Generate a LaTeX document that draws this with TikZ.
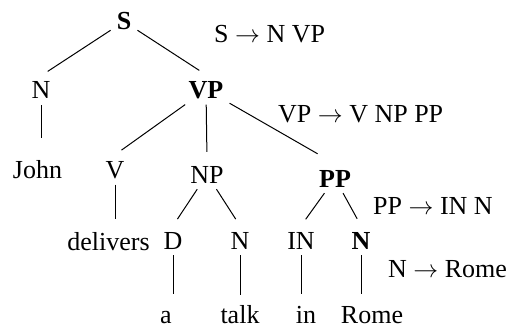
\documentclass[tikz,border=0pt]{standalone}
\usepackage{fontspec}
\setmainfont{Liberation Serif}
\usepackage{tikz}
\usetikzlibrary{calc}

\begin{document}
\begin{tikzpicture}[x = 1pt, y = -1pt,
		font = \fontsize{26}{30}\selectfont,
		word/.style = {anchor = base, inner sep = 6pt},
		head/.style = {word, font = \fontsize{26}{30}\selectfont\bfseries},
		rule/.style = {anchor = base west, inner sep = 0pt},
		branch/.style = {line width = 1pt, shorten >= 6pt}]
	\useasboundingbox (0, 0) rectangle (514, 329);

	% Nodes
	\node[head] (s) at (124, 30) {S};
	\node[word] (n1) at (41, 99) {N};
	\node[head] (vp) at (206, 98) {VP};
	\node[word] (john) at (37.5, 178) {John};
	\node[word] (v) at (115, 178) {V};
	\node[word] (np) at (207, 183) {NP};
	\node[head] (pp) at (335, 187) {PP};
	\node[word] (delivers) at (108.5, 250) {delivers};
	\node[word] (d) at (173, 249) {D};
	\node[word] (n2) at (240, 249) {N};
	\node[word] (in1) at (301, 249) {IN};
	\node[head] (n3) at (361, 249) {N};
	\node[word] (a) at (166, 323) {a};
	\node[word] (talk) at (240, 323) {talk};
	\node[word] (in2) at (306, 323) {in};
	\node[word] (rome) at (372, 323) {Rome};

	% Rules
	\node[rule] (r1) at (214, 43) {S $\rightarrow$ N VP};
	\node[rule] (r2) at (278, 122) {VP $\rightarrow$ V NP PP};
	\node[rule] (r3) at (373, 214) {PP $\rightarrow$ IN N};
	\node[rule] (r4) at (388, 277) {N $\rightarrow$ Rome};

	% Edges
	\draw[branch, shorten >= 8pt] (s) -- (n1.north);
	\draw[branch, shorten >= 8pt] (s) -- (vp.north);
	\draw[branch, shorten >= 8pt] (vp) -- (v.north);
	\draw[branch, shorten >= 8pt] (vp) -- (np.north);
	\draw[branch, shorten >= 20pt] (vp) -- (pp.north);
	\draw[branch, shorten >= 8pt] (np) -- (d.north);
	\draw[branch, shorten >= 8pt] (np) -- (n2.north);
	\draw[branch, shorten >= 8pt] (pp) -- (in1.north);
	\draw[branch, shorten >= 8pt] (pp) -- (n3.north);
	\draw[branch, shorten >= 16pt] (n1.south) -- (n1.south |- john.north);
	\draw[branch, shorten >= 7pt] (v.south) -- (v.south |- delivers.north);
	\draw[branch, shorten >= 11pt] (d.south) -- (d.south |- a.north);
	\draw[branch, shorten >= 4pt] (n2.south) -- (n2.south |- talk.north);
	\draw[branch] (in1.south) -- (in1.south |- in2.north);
	\draw[branch] (n3.south) -- (n3.south |- rome.north);
\end{tikzpicture}
\end{document}
